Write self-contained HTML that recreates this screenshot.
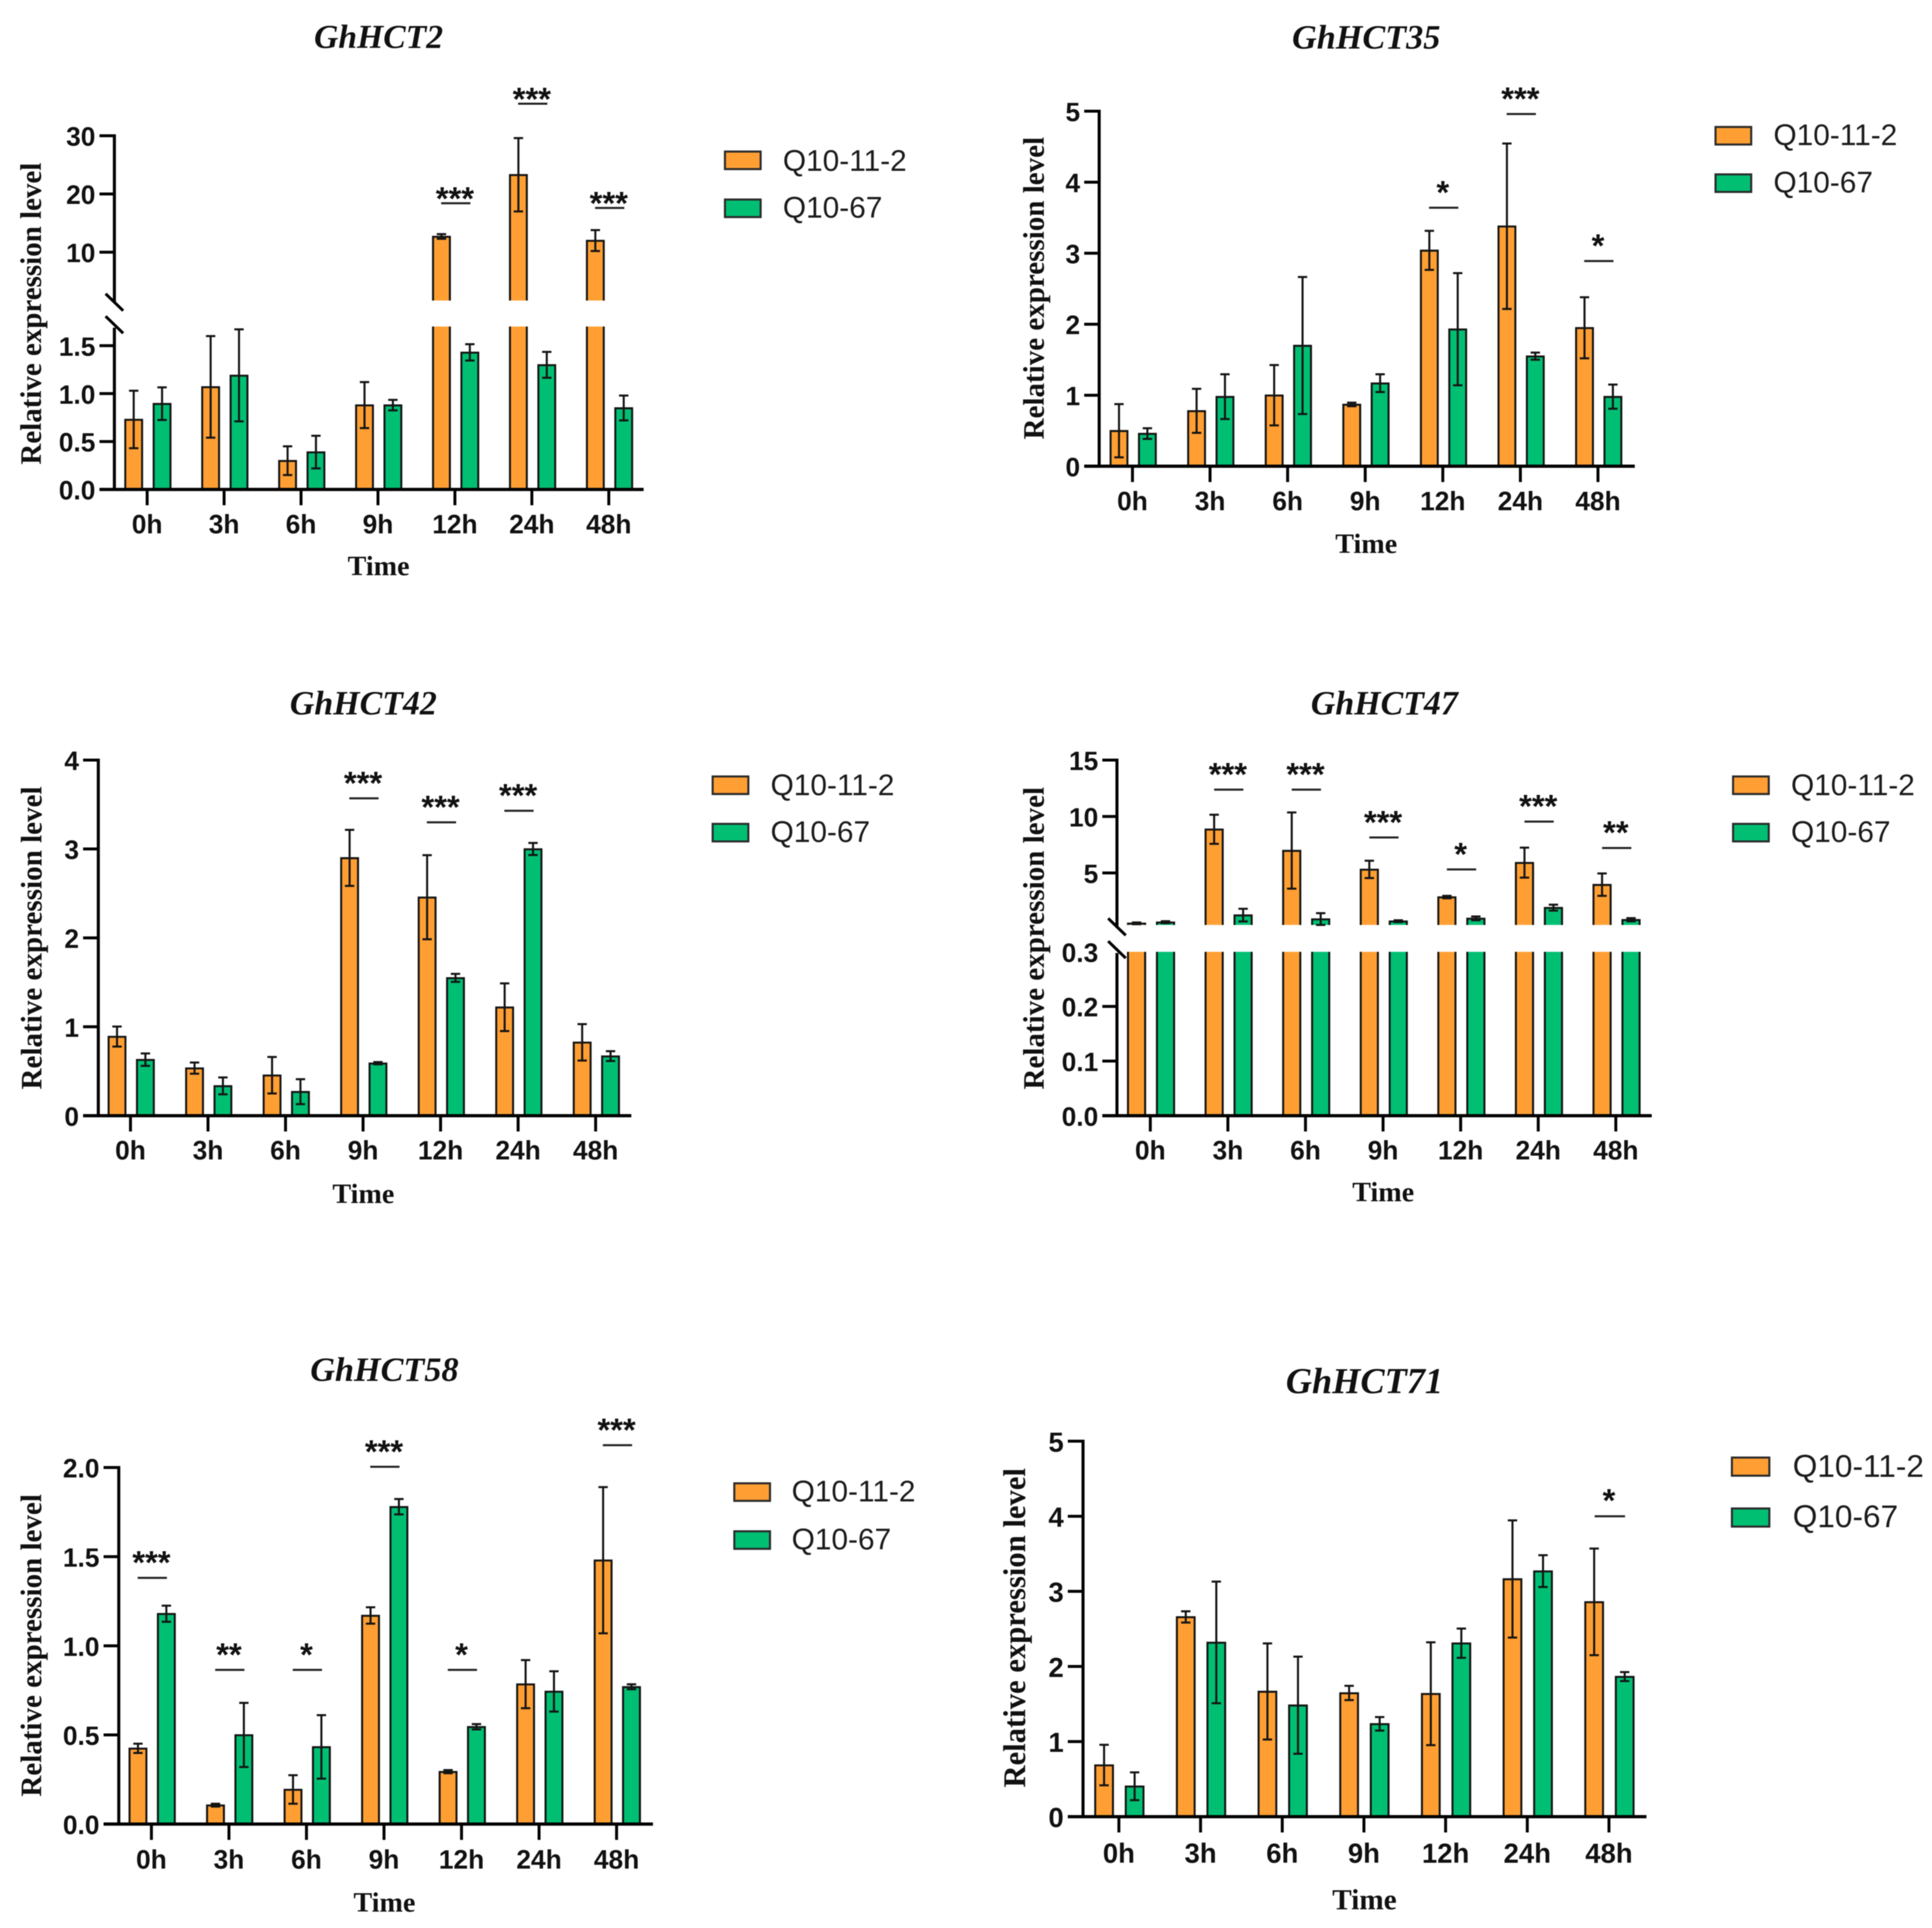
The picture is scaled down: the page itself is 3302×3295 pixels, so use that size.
<!DOCTYPE html>
<html lang="en">
<head>
<meta charset="utf-8">
<title>GhHCT relative expression levels</title>
<style>
  html, body { margin: 0; padding: 0; background: #fff; }
  svg { display: block; filter: blur(0.7px); }
  .title { font: italic bold 57.5px "Liberation Serif", serif; text-anchor: middle; fill: #111; }
  .ytitle { font: bold 51px "Liberation Serif", serif; text-anchor: middle; fill: #111; }
  .xtitle { font: bold 48px "Liberation Serif", serif; text-anchor: middle; fill: #111; }
  .legend-text { font: 51px "Liberation Sans", sans-serif; fill: #1c1c1c; }
  .sw { stroke: #2a2a2a; stroke-width: 3.5; }
  .orange { fill: #FF9F33; }
  .green { fill: #00BF73; }
</style>
</head>
<body>
<svg id="figure" xmlns="http://www.w3.org/2000/svg" width="3302" height="3295" viewBox="0 0 3302 3295">
  <rect width="3302" height="3295" fill="#fff"/>

  <g id="hct2">
    <text class="title" x="647" y="82">GhHCT2</text>
    <text class="ytitle" transform="translate(70,536) rotate(-90)" textLength="516" lengthAdjust="spacingAndGlyphs">Relative expression level</text>
    <text class="xtitle" x="647" y="983">Time</text>
    <rect class="sw orange" x="1239" y="259" width="61" height="30"/>
    <text class="legend-text" x="1338" y="292">Q10-11-2</text>
    <rect class="sw green" x="1239" y="341" width="61" height="30"/>
    <text class="legend-text" x="1338" y="372">Q10-67</text>
  </g>

  <g id="hct35">
    <text class="title" x="2335" y="83" style="font-size:58.5px">GhHCT35</text>
    <text class="ytitle" transform="translate(1784,492.5) rotate(-90)" textLength="517" lengthAdjust="spacingAndGlyphs">Relative expression level</text>
    <text class="xtitle" x="2335" y="945">Time</text>
    <rect class="sw orange" x="2932" y="217" width="61" height="30"/>
    <text class="legend-text" x="3031" y="248">Q10-11-2</text>
    <rect class="sw green" x="2932" y="298" width="61" height="30"/>
    <text class="legend-text" x="3031" y="329">Q10-67</text>
  </g>

  <g id="hct42">
    <text class="title" x="621" y="1221" style="font-size:58px">GhHCT42</text>
    <text class="ytitle" transform="translate(71,1603) rotate(-90)" textLength="518" lengthAdjust="spacingAndGlyphs">Relative expression level</text>
    <text class="xtitle" x="621" y="2056">Time</text>
    <rect class="sw orange" x="1218" y="1327" width="61" height="30"/>
    <text class="legend-text" x="1317" y="1359">Q10-11-2</text>
    <rect class="sw green" x="1218" y="1408" width="61" height="30"/>
    <text class="legend-text" x="1317" y="1439">Q10-67</text>
  </g>

  <g id="hct47">
    <text class="title" x="2366" y="1221" style="font-size:58px">GhHCT47</text>
    <text class="ytitle" transform="translate(1784,1603.5) rotate(-90)" textLength="517" lengthAdjust="spacingAndGlyphs">Relative expression level</text>
    <text class="xtitle" x="2364" y="2053">Time</text>
    <rect class="sw orange" x="2962" y="1327" width="61" height="30"/>
    <text class="legend-text" x="3061" y="1359">Q10-11-2</text>
    <rect class="sw green" x="2962" y="1408" width="61" height="30"/>
    <text class="legend-text" x="3061" y="1439">Q10-67</text>
  </g>

  <g id="hct58">
    <text class="title" x="657" y="2360" style="font-size:58.5px">GhHCT58</text>
    <text class="ytitle" transform="translate(70.5,2812) rotate(-90)" textLength="517" lengthAdjust="spacingAndGlyphs">Relative expression level</text>
    <text class="xtitle" x="657" y="3267">Time</text>
    <rect class="sw orange" x="1255" y="2535" width="61" height="30"/>
    <text class="legend-text" x="1353" y="2566">Q10-11-2</text>
    <rect class="sw green" x="1255" y="2617" width="61" height="30"/>
    <text class="legend-text" x="1353" y="2648">Q10-67</text>
  </g>

  <g id="hct71">
    <text class="title" x="2332" y="2381" style="font-size:62px">GhHCT71</text>
    <text class="ytitle" transform="translate(1752,2782) rotate(-90)" textLength="546" lengthAdjust="spacingAndGlyphs" style="font-size:54px">Relative expression level</text>
    <text class="xtitle" x="2332" y="3263" style="font-size:50px">Time</text>
    <rect class="sw orange" x="2960" y="2491" width="64" height="31"/>
    <text class="legend-text" x="3064" y="2524" style="font-size:54px">Q10-11-2</text>
    <rect class="sw green" x="2960" y="2578" width="64" height="31"/>
    <text class="legend-text" x="3064" y="2610" style="font-size:54px">Q10-67</text>
  </g>
</svg>

<script>
const timeCategories = ['0h', '3h', '6h', '9h', '12h', '24h', '48h'];

const hct2Q11Means = [0.73, 1.07, 0.30, 0.88, 12.7, 23.3, 12.0];
const hct2Q11Errors = [0.30, 0.53, 0.15, 0.24, 0.4, 6.3, 1.8];
const hct2Q67Means = [0.895, 1.19, 0.39, 0.88, 1.43, 1.30, 0.85];
const hct2Q67Errors = [0.17, 0.48, 0.17, 0.055, 0.085, 0.135, 0.13];
const hct2SigLevels = [null, null, null, null, 18.4, 35.5, 17.6];
const hct2SigLabels = ['', '', '', '', '***', '***', '***'];
const hct2TicksLower = ['0.0', '0.5', '1.0', '1.5'];
const hct2TicksUpper = ['10', '20', '30'];

const hct35Q11Means = [0.50, 0.78, 1.00, 0.87, 3.04, 3.38, 1.95];
const hct35Q11Errors = [0.375, 0.31, 0.425, 0.025, 0.275, 1.165, 0.43];
const hct35Q67Means = [0.46, 0.98, 1.70, 1.17, 1.93, 1.55, 0.98];
const hct35Q67Errors = [0.075, 0.315, 0.965, 0.125, 0.79, 0.05, 0.17];
const hct35SigLevels = [null, null, null, null, 3.64, 4.96, 2.89];
const hct35SigLabels = ['', '', '', '', '*', '***', '*'];
const hct35Ticks = ['0', '1', '2', '3', '4', '5'];

const hct42Q11Means = [0.89, 0.535, 0.455, 2.90, 2.457, 1.22, 0.825];
const hct42Q11Errors = [0.113, 0.063, 0.205, 0.315, 0.473, 0.268, 0.205];
const hct42Q67Means = [0.63, 0.335, 0.27, 0.59, 1.55, 3.00, 0.67];
const hct42Q67Errors = [0.07, 0.095, 0.14, 0.013, 0.045, 0.068, 0.055];
const hct42SigLevels = [null, null, null, 3.57, 3.30, 3.43, null];
const hct42SigLabels = ['', '', '', '***', '***', '***', ''];
const hct42Ticks = ['0', '1', '2', '3', '4'];

const hct47Q11Means = [0.53, 8.87, 6.98, 5.31, 2.86, 5.91, 3.96];
const hct47Q11Errors = [0.08, 1.29, 3.38, 0.77, 0.11, 1.33, 0.99];
const hct47Q67Means = [0.63, 1.26, 0.91, 0.72, 0.97, 1.92, 0.85];
const hct47Q67Errors = [0.09, 0.56, 0.52, 0.08, 0.17, 0.26, 0.14];
const hct47SigLevels = [null, 12.38, 12.38, 8.14, 5.31, 9.55, 7.21];
const hct47SigLabels = ['', '***', '***', '***', '*', '***', '**'];
const hct47TicksLower = ['0.0', '0.1', '0.2', '0.3'];
const hct47TicksUpper = ['5', '10', '15'];

const hct58Q11Means = [0.425, 0.106, 0.194, 1.17, 0.294, 0.785, 1.48];
const hct58Q11Errors = [0.026, 0.008, 0.08, 0.046, 0.009, 0.135, 0.41];
const hct58Q67Means = [1.18, 0.50, 0.433, 1.78, 0.546, 0.744, 0.77];
const hct58Q67Errors = [0.045, 0.18, 0.178, 0.043, 0.015, 0.113, 0.014];
const hct58SigLevels = [1.381, 0.865, 0.865, 2.004, 0.865, null, 2.125];
const hct58SigLabels = ['***', '**', '*', '***', '*', '', '***'];
const hct58Ticks = ['0.0', '0.5', '1.0', '1.5', '2.0'];

const hct71Q11Means = [0.687, 2.66, 1.667, 1.647, 1.637, 3.165, 2.86];
const hct71Q11Errors = [0.27, 0.075, 0.64, 0.095, 0.685, 0.78, 0.71];
const hct71Q67Means = [0.405, 2.32, 1.484, 1.236, 2.31, 3.27, 1.865];
const hct71Q67Errors = [0.185, 0.81, 0.647, 0.09, 0.195, 0.212, 0.06];
const hct71SigLevels = [null, null, null, null, null, null, 4.0];
const hct71SigLabels = ['', '', '', '', '', '', '*'];
const hct71Ticks = ['0', '1', '2', '3', '4', '5'];

const SVG_NS = 'http://www.w3.org/2000/svg';
const ORANGE = '#FF9F33';
const GREEN = '#00BF73';
const INK = '#141414';

const chartLayouts = [
  { id: 'hct2', q11: hct2Q11Means, q11e: hct2Q11Errors, q67: hct2Q67Means, q67e: hct2Q67Errors,
    sig: hct2SigLevels, sigText: hct2SigLabels, firstX: 251.5, step: 131.5, axisX: 195.5,
    baseL: 170, baseR: 1100, labelRight: 163, barL: -23, barR: 25.5, barW: 32, labelFs: 45, labelDy: 75,
    starGap: 16, sigW: 50, segments: [
      { lo: 0, hi: 1.7, yLo: 836.5, yHi: 558, ticks: hct2TicksLower, hidden: [] },
      { lo: 1.7, hi: 30, yLo: 513.6, yHi: 232, ticks: hct2TicksUpper, hidden: [] }
    ], slashDx: 15, slashDy: 14.5, slashes: [516.5, 555] },
  { id: 'hct35', q11: hct35Q11Means, q11e: hct35Q11Errors, q67: hct35Q67Means, q67e: hct35Q67Errors,
    sig: hct35SigLevels, sigText: hct35SigLabels, firstX: 1935.5, step: 132.6, axisX: 1878.6,
    baseL: 1853, baseR: 2794, labelRight: 1846, barL: -23, barR: 25.5, barW: 32, labelFs: 45, labelDy: 75,
    starGap: 34, sigW: 50, segments: [
      { lo: 0, hi: 5, yLo: 796.8, yHi: 190, ticks: hct35Ticks, hidden: [] }
    ], slashes: [] },
  { id: 'hct42', q11: hct42Q11Means, q11e: hct42Q11Errors, q67: hct42Q67Means, q67e: hct42Q67Errors,
    sig: hct42SigLevels, sigText: hct42SigLabels, firstX: 223, step: 132.5, axisX: 168,
    baseL: 142, baseR: 1079, labelRight: 135, barL: -23, barR: 25.5, barW: 32, labelFs: 45, labelDy: 75,
    starGap: 34, sigW: 50, segments: [
      { lo: 0, hi: 4, yLo: 1906.7, yHi: 1299, ticks: hct42Ticks, hidden: [] }
    ], slashes: [] },
  { id: 'hct47', q11: hct47Q11Means, q11e: hct47Q11Errors, q67: hct47Q67Means, q67e: hct47Q67Errors,
    sig: hct47SigLevels, sigText: hct47SigLabels, firstX: 1966, step: 132.6, axisX: 1909,
    baseL: 1884, baseR: 2823, labelRight: 1877, barL: -23.5, barR: 26, barW: 32.5, labelFs: 45, labelDy: 75,
    starGap: 34, sigW: 50, segments: [
      { lo: 0, hi: 0.3, yLo: 1906.7, yHi: 1626.7, ticks: hct47TicksLower, hidden: ['0.3'] },
      { lo: 0.39, hi: 15, yLo: 1580.7, yHi: 1299, ticks: hct47TicksUpper, hidden: [] }
    ], slashDx: 15, slashDy: 14.5, slashes: [1584, 1623] },
  { id: 'hct58', q11: hct58Q11Means, q11e: hct58Q11Errors, q67: hct58Q67Means, q67e: hct58Q67Errors,
    sig: hct58SigLevels, sigText: hct58SigLabels, firstX: 258.8, step: 132.5, axisX: 203,
    baseL: 177, baseR: 1116, labelRight: 170, barL: -23, barR: 25.5, barW: 32, labelFs: 45, labelDy: 76,
    starGap: 34, sigW: 50, segments: [
      { lo: 0, hi: 2, yLo: 3117.4, yHi: 2508, ticks: hct58Ticks, hidden: [] }
    ], slashes: [] },
  { id: 'hct71', q11: hct71Q11Means, q11e: hct71Q11Errors, q67: hct71Q67Means, q67e: hct71Q67Errors,
    sig: hct71SigLevels, sigText: hct71SigLabels, firstX: 1912.3, step: 139.6, axisX: 1851,
    baseL: 1825, baseR: 2814, labelRight: 1818, barL: -25.3, barR: 26.9, barW: 33.5, labelFs: 47, labelDy: 79,
    starGap: 35, sigW: 52, segments: [
      { lo: 0, hi: 5, yLo: 3104.7, yHi: 2463, ticks: hct71Ticks, hidden: [] }
    ], slashes: [] }
];

function make(tag, attrs) {
  const node = document.createElementNS(SVG_NS, tag);
  Object.keys(attrs).forEach(function (key) { node.setAttribute(key, attrs[key]); });
  return node;
}

function segmentScale(seg, value) {
  return seg.yLo + (value - seg.lo) / (seg.hi - seg.lo) * (seg.yHi - seg.yLo);
}

function makeYScale(segments) {
  return function (value) {
    let seg = segments[0];
    segments.forEach(function (s) { if (value >= s.lo) seg = s; });
    return segmentScale(seg, value);
  };
}

function drawBar(group, layout, cx, value, color, seriesName) {
  const left = cx - layout.barW / 2;
  layout.segments.forEach(function (seg) {
    if (value <= seg.lo) return;
    const clipped = value > seg.hi;
    const top = segmentScale(seg, Math.min(value, seg.hi));
    const fill = make('rect', { x: left, y: top, width: layout.barW, height: seg.yLo - top, fill: color });
    
    
    group.appendChild(fill);
    const l = left + 1.6;
    const r = left + layout.barW - 1.6;
    const t = top + (clipped ? 0 : 0.5);
    const d = clipped
      ? 'M' + l + ' ' + seg.yLo + 'V' + t + 'M' + r + ' ' + t + 'V' + seg.yLo
      : 'M' + l + ' ' + seg.yLo + 'V' + t + 'H' + r + 'V' + seg.yLo;
    const outline = make('path', { d: d, fill: 'none', stroke: INK, 'stroke-width': 3.4 });
    
    
    group.appendChild(outline);
  });
}

function drawError(group, cx, mean, err, yScale) {
  const yTop = yScale(mean + err);
  const yBot = yScale(Math.max(mean - err, 0));
  const cap = 8;
  const d = 'M' + cx + ' ' + yTop + 'V' + yBot +
            'M' + (cx - cap) + ' ' + yTop + 'H' + (cx + cap) +
            'M' + (cx - cap) + ' ' + yBot + 'H' + (cx + cap);
  const bar = make('path', { d: d, fill: 'none', stroke: INK, 'stroke-width': 3.5 });
  
  
  group.appendChild(bar);
}

function drawChart(layout) {
  const group = document.getElementById(layout.id);
  const yScale = makeYScale(layout.segments);
  const baseY = layout.segments[0].yLo;
  const xOf = function (i) { return layout.firstX + i * layout.step; };

  timeCategories.forEach(function (cat, i) {
    const cx = xOf(i);
    drawBar(group, layout, cx + layout.barL, layout.q11[i], ORANGE, 'q10-11-2');
    drawBar(group, layout, cx + layout.barR, layout.q67[i], GREEN, 'q10-67');
  });
  timeCategories.forEach(function (cat, i) {
    const cx = xOf(i);
    drawError(group, cx + layout.barL, layout.q11[i], layout.q11e[i], yScale);
    drawError(group, cx + layout.barR, layout.q67[i], layout.q67e[i], yScale);
  });

  layout.segments.forEach(function (seg, idx) {
    const topPad = idx === layout.segments.length - 1 ? 2.5 : -2;
    const bottomPad = idx === 0 ? 0 : 4;
    const axis = make('line', { x1: layout.axisX, x2: layout.axisX, y1: seg.yLo + bottomPad, y2: seg.yHi - topPad, stroke: '#000', 'stroke-width': 5.2 });
    
    
    group.appendChild(axis);
    seg.ticks.forEach(function (label) {
      const y = segmentScale(seg, Number(label));
      if (seg.hidden.indexOf(label) < 0) {
        const tick = make('line', { x1: layout.baseL, x2: layout.axisX, y1: y, y2: y, stroke: '#000', 'stroke-width': 5 });
        
        
        group.appendChild(tick);
      }
      const text = make('text', { x: layout.labelRight, y: y + layout.labelFs * 0.38, 'text-anchor': 'end', fill: '#111',
        style: 'font:bold ' + layout.labelFs + 'px "Liberation Sans",sans-serif' });
      text.textContent = label;
      
      
      group.appendChild(text);
    });
  });

  layout.slashes.forEach(function (y) {
    const slash = make('line', { x1: layout.axisX - layout.slashDx, x2: layout.axisX + layout.slashDx, y1: y - layout.slashDy, y2: y + layout.slashDy, stroke: '#000', 'stroke-width': 5 });
    
    
    group.appendChild(slash);
  });

  const baseLine = make('line', { x1: layout.baseL, x2: layout.baseR, y1: baseY, y2: baseY, stroke: '#000', 'stroke-width': 5.5 });
  
  
  group.appendChild(baseLine);

  timeCategories.forEach(function (cat, i) {
    const cx = xOf(i);
    const tick = make('line', { x1: cx, x2: cx, y1: baseY, y2: baseY + 27, stroke: '#000', 'stroke-width': 5 });
    
    
    group.appendChild(tick);
    const label = make('text', { x: cx, y: baseY + layout.labelDy, 'text-anchor': 'middle', fill: '#111',
      style: 'font:bold ' + layout.labelFs + 'px "Liberation Sans",sans-serif' });
    label.textContent = cat;
    
    
    group.appendChild(label);

    if (layout.sig[i] !== null) {
      const y = yScale(layout.sig[i]);
      const sigLine = make('line', { x1: cx + 1.5 - layout.sigW / 2, x2: cx + 1.5 + layout.sigW / 2, y1: y, y2: y, stroke: '#222', 'stroke-width': 3.5 });
      
      
      group.appendChild(sigLine);
      const stars = make('text', { x: cx, y: y - layout.starGap + 27, 'text-anchor': 'middle', fill: '#111',
        style: 'font:bold 56px "Liberation Sans",sans-serif' });
      stars.textContent = layout.sigText[i];
      
      
      group.appendChild(stars);
    }
  });
}

chartLayouts.forEach(drawChart);
</script>
</body>
</html>
